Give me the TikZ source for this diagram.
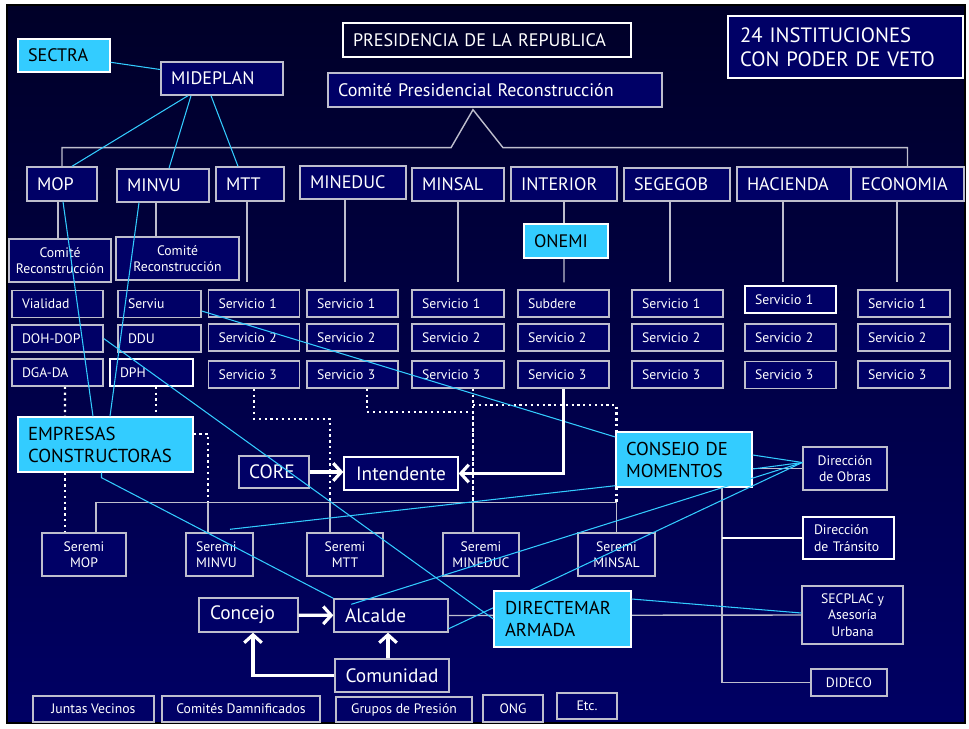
\documentclass[tikz,border=0pt]{standalone}
\usepackage{fontspec}
\setmainfont{PT Sans}
\usetikzlibrary{arrows.meta,calc}
\definecolor{navybox}{RGB}{0,0,102}
\definecolor{skyblue}{RGB}{51,204,255}
\definecolor{edgegray}{RGB}{190,190,205}
\definecolor{bgtop}{RGB}{0,0,40}
\definecolor{bgbot}{RGB}{0,0,100}
\pgfdeclarelayer{back}
\pgfdeclarelayer{bg}
\pgfsetlayers{back,bg,main}
\tikzset{
  big/.style={font=\fontsize{10.3}{12}\selectfont},
  mid/.style={font=\fontsize{11}{13}\selectfont},
  small/.style={font=\fontsize{7.8}{9.3}\selectfont},
  box/.style={shape=rectangle, draw=edgegray, line width=0.8pt, fill=navybox, text=white, big, align=left, inner xsep=0.2cm, inner ysep=0pt},
  cbox/.style={shape=rectangle, draw=edgegray, line width=0.8pt, fill=navybox, text=white, align=center, inner sep=0pt},
  cyanbox/.style={box, fill=skyblue, draw=white, text=black},
  sbox/.style={box, small, text width=1.42cm, minimum height=0.54cm},
  cyanline/.style={draw=skyblue, line width=0.6pt},
  grayline/.style={draw=edgegray, line width=0.8pt},
  dotline/.style={draw=white, line width=1.3pt, dotted},
  bigarrow/.style={draw=white, line width=1.8pt, -{Straight Barb[length=4.5pt,width=10pt]}}
}
\begin{document}
\begin{tikzpicture}[x=0.02cm,y=-0.02cm]
\useasboundingbox (0,0) rectangle (969,729);
\begin{pgfonlayer}{back}
\fill[white] (0,0) rectangle (969,729);
\shadedraw[top color=bgtop, bottom color=bgbot, draw=black, line width=1.5pt] (7,5) rectangle (965,723);
\end{pgfonlayer}

\node (z1)[cyanbox, text width=1.44cm, minimum height=0.66cm] at (64,55.5) {SECTRA};
\node (z2)[box, text width=2.04cm, minimum height=0.66cm] at (222,78.5) {MIDEPLAN};
\node (z3)[box, fill=none, draw=white, text width=5.36cm, minimum height=0.68cm] at (487,40) {PRESIDENCIA DE LA REPUBLICA};
\node (z4)[box, text width=6.28cm, minimum height=0.68cm] at (495,90) {Comité Presidencial Reconstrucción};
\node (z5)[box, draw=white, font=\fontsize{11.8}{13.5}\selectfont, inner xsep=0.24cm, text width=4.22cm, minimum height=1.24cm] at (845.5,47) {24 INSTITUCIONES\\CON PODER DE VETO};

\node (z6)[box, text width=1.0cm, minimum height=0.68cm] at (62,184) {MOP};
\node (z7)[box, text width=1.44cm, minimum height=0.66cm] at (163,185.5) {MINVU};
\node (z8)[box, text width=0.96cm, minimum height=0.68cm] at (250,184) {MTT};
\node (z9)[box, text width=1.72cm, minimum height=0.66cm] at (353,182.5) {MINEDUC};
\node (z10)[box, text width=1.44cm, minimum height=0.66cm] at (458,184.5) {MINSAL};
\node (z11)[box, text width=1.72cm, minimum height=0.68cm] at (564,184) {INTERIOR};
\node (z12)[box, text width=1.72cm, minimum height=0.66cm] at (677,184.5) {SEGEGOB};
\node (z13)[box, text width=1.88cm, minimum height=0.68cm] at (794,184) {HACIENDA};
\node (z14)[box, text width=1.86cm, minimum height=0.68cm] at (907.5,184) {ECONOMIA};
\node (z15)[cyanbox, text width=1.28cm, minimum height=0.68cm] at (566,241) {ONEMI};

\node (z16)[cbox, small, minimum width=2.04cm, minimum height=0.86cm] at (60,260.5) {Comité\\Reconstrucción};
\node (z17)[cbox, small, minimum width=2.46cm, minimum height=0.86cm] at (177.5,258.5) {Comité\\Reconstrucción};

\node (z18)[sbox] at (57.5,304) {Vialidad};
\node (z19)[sbox] at (57.5,338.5) {DOH-DOP};
\node (z20)[sbox] at (57.5,372.5) {DGA-DA};
\node (z21)[sbox, text width=1.26cm] at (159.5,304) {Serviu};
\node (z22)[sbox, text width=1.26cm] at (159.5,338.5) {DDU};
\node (z23)[sbox, draw=white, text width=1.26cm] at (151.5,372.5) {DPH};
\node (z24)[sbox] at (254,303.5) {Servicio 1};
\node (z25)[sbox] at (254,337.5) {Servicio 2};
\node (z26)[sbox] at (254,374.5) {Servicio 3};
\node (z27)[sbox] at (352.5,303.5) {Servicio 1};
\node (z28)[sbox] at (352.5,337.5) {Servicio 2};
\node (z29)[sbox] at (352.5,374.5) {Servicio 3};
\node (z30)[sbox, text width=1.44cm] at (458,303.5) {Servicio 1};
\node (z31)[sbox, text width=1.44cm] at (458,337.5) {Servicio 2};
\node (z32)[sbox, text width=1.44cm] at (458,374.5) {Servicio 3};
\node (z33)[sbox] at (563.5,303.5) {Subdere};
\node (z34)[sbox] at (563.5,337.5) {Servicio 2};
\node (z35)[sbox] at (563.5,374.5) {Servicio 3};
\node (z36)[sbox] at (677.5,303.5) {Servicio 1};
\node (z37)[sbox] at (677.5,337.5) {Servicio 2};
\node (z38)[sbox] at (677.5,374.5) {Servicio 3};
\node (z39)[sbox, draw=white] at (790.5,299.5) {Servicio 1};
\node (z40)[sbox] at (790.5,337.5) {Servicio 2};
\node (z41)[sbox] at (790.5,375) {Servicio 3};
\node (z42)[sbox, text width=1.44cm] at (904,303.5) {Servicio 1};
\node (z43)[sbox, text width=1.44cm] at (904,337.5) {Servicio 2};
\node (z44)[sbox, text width=1.44cm] at (904,374.5) {Servicio 3};

\node (z45)[cyanbox, text width=3.1cm, minimum height=1.1cm, font=\fontsize{10.7}{12.5}\selectfont] at (105.5,444.5) {EMPRESAS\\CONSTRUCTORAS};
\node (z46)[box, mid, text width=1.0cm, minimum height=0.64cm] at (274,472) {CORE};
\node (z47)[cbox, mid, draw=white, minimum width=2.28cm, minimum height=0.66cm] at (401,473.5) {Intendente};
\node (z48)[cyanbox, text width=2.32cm, minimum height=1.1cm, font=\fontsize{10.6}{12.5}\selectfont] at (684,459.5) {CONSEJO DE\\MOMENTOS};
\node (z49)[cbox, small, minimum width=1.68cm, minimum height=0.86cm] at (845,468.5) {Dirección\\de Obras};
\node (z50)[box, small, draw=white, inner xsep=0.22cm, text width=1.38cm, minimum height=0.84cm] at (848.5,538) {Dirección\\de Tránsito};
\node (z51)[cbox, small, minimum width=2.02cm, minimum height=1.16cm] at (852.5,615) {SECPLAC y\\Asesoría\\Urbana};
\node (z52)[cbox, small, minimum width=1.52cm, minimum height=0.54cm] at (849,682.5) {DIDECO};

\node (z53)[cbox, small, minimum width=1.68cm, minimum height=0.86cm] at (84,554.5) {Seremi\\MOP};
\node (z54)[box, small, text width=0.94cm, minimum height=0.86cm] at (219.5,554.5) {Seremi\\MINVU};
\node (z55)[cbox, small, minimum width=1.52cm, minimum height=0.86cm] at (345,554.5) {Seremi\\MTT};
\node (z56)[cbox, small, minimum width=1.52cm, minimum height=0.86cm] at (481,554.5) {Seremi\\MINEDUC};
\node (z57)[cbox, small, minimum width=1.54cm, minimum height=0.86cm] at (616.5,554.5) {Seremi\\MINSAL};

\node (z58)[box, mid, inner xsep=0.22cm, text width=1.54cm, minimum height=0.68cm] at (248.5,615) {Concejo};
\node (z59)[box, mid, inner xsep=0.22cm, text width=1.84cm, minimum height=0.66cm] at (391,615.5) {Alcalde};
\node (z60)[cbox, mid, minimum width=2.28cm, minimum height=0.66cm] at (392,675.5) {Comunidad};

\draw[cyanline] ($(z59.south east)+(0,-4)$) -- ($(z49.west)+(0,-6)$);
\node (z61)[cyanbox, inner xsep=0.22cm, text width=2.3cm, minimum height=1.12cm, font=\fontsize{10.6}{12.5}\selectfont] at (562.5,619) {DIRECTEMAR\\ARMADA};

\node (z62)[cbox, small, minimum width=2.42cm, minimum height=0.52cm] at (93.5,709) {Juntas Vecinos};
\node (z63)[cbox, small, minimum width=3.16cm, minimum height=0.52cm] at (241,709) {Comités Damnificados};
\node (z64)[cbox, small, minimum width=2.72cm, minimum height=0.5cm] at (404,709.5) {Grupos de Presión};
\node (z65)[cbox, small, minimum width=1.2cm, minimum height=0.54cm] at (513,708.5) {ONG};
\node (z66)[cbox, small, minimum width=1.2cm, minimum height=0.52cm] at (587,706) {Etc.};

\begin{pgfonlayer}{bg}
\coordinate (t0) at ($(z4.south)+(-22,2)$);
\draw[grayline] (z6.north) |- ($(t0)+(-22,38)$) -- (t0) -- ($(t0)+(30,38)$) -| (z14.north);
\draw[grayline] ($(z6.south)+(-4,0)$) -- ($(z16.north)+(-2,0)$);
\draw[grayline] ($(z7.south)+(-7,0)$) -- ($(z17.north)+(-21.5,0)$);
\draw[grayline] ($(z8.south)+(-3,0)$) -- ($(z24.north)+(-7,-7)$);
\draw[grayline] ($(z9.south)+(-8,0)$) -- ($(z27.north)+(-7.5,-7)$);
\draw[grayline] (z10.south) -- ($(z30.north)+(0,-7)$);
\draw[grayline] (z11.south) -- ($(z15.north)+(-2,0)$);
\draw[grayline] ($(z15.south)+(-2,0)$) -- ($(z33.north)+(0.5,-7)$);
\draw[grayline] ($(z12.south)+(-7,0)$) -- ($(z36.north)+(-7.5,-7)$);
\draw[grayline] ($(z13.south)+(-11,0)$) -- ($(z39.north)+(-7.5,-3)$);
\draw[grayline] ($(z14.south)+(-10.5,0)$) -- ($(z42.north)+(-7,-7)$);

\coordinate (bus) at ($(z57.north)+(0,-30)$);
\draw[dotline] ($(z20.south)+(7.5,0)$) -- ($(z45.north)+(-40.5,0)$);
\draw[dotline] ($(z23.south)+(4.5,0)$) -- ($(z45.north)+(50.5,0)$);
\draw[dotline] ($(z45.south)+(-40.5,0)$) -- ($(z53.north)+(-19,0)$);
\draw[dotline] ($(z45.east)+(0,-10.5)$) -| ($(z54.north)+(-11.5,-30)$);
\draw[dotline] (z26.south) -- ++(0,30) -| ($(z55.north)+(-15,-30)$);
\draw[dotline] ($(z29.south)+(14.5,0)$) -- ++(0,23) -| ($(z56.north)+(-8,-30)$);
\draw[dotline] ($(z32.south)+(15,0)$) -- ($(z56.north)+(-8,-30)$);
\draw[dotline] ($(z32.south)+(15,16.5)$) -| (bus);

\draw[grayline] ($(z53.north)+(12,0)$) |- (bus) -- (z57.north);
\draw[grayline] ($(z54.north)+(-11.5,-30)$) -- ($(z54.north)+(-11.5,0)$);
\draw[grayline] ($(z55.north)+(-15,-30)$) -- ($(z55.north)+(-15,0)$);
\draw[grayline] ($(z56.north)+(-8,-30)$) -- ($(z56.north)+(-8,0)$);

\coordinate (v0) at ($(z48.south)+(38,0)$);
\draw[grayline] (v0) |- (z52.west);
\draw[white, line width=1.2pt] (v0 |- z50.west) -- (z50.west);
\draw[grayline] (z48.east |- z49.west) -- (z49.west);
\draw[grayline] (z59.east) -- (z51.west);
\end{pgfonlayer}

\draw[cyanline] (z1) -- (z2);
\draw[cyanline] ($(z2.south)+(-34,0)$) -- ($(z6.north)+(10,0)$);
\draw[cyanline] ($(z2.south)+(-31,0)$) -- ($(z7.north)+(6,0)$);
\draw[cyanline] ($(z2.south)+(-11,0)$) -- ($(z8.north)+(-12,0)$);
\draw[cyanline] ($(z6.south)+(1,0)$) -- ($(z45.north)+(-12.5,0)$);
\draw[cyanline] ($(z7.south)+(-24,0)$) -- ($(z45.north)+(4.5,0)$);
\draw[cyanline] ($(z21.east)+(0,7)$) -- ($(z48.west)+(0,-22.5)$);
\draw[cyanline] (z19.east) -- (z61.west);
\draw[cyanline] ($(z45.south)+(-4,0)$) -- ++(0,5) -- (z59.north west);
\draw[cyanline] ($(z54.north)+(10.5,-3)$) -- ($(z48.south west)+(0,-2)$);
\draw[cyanline] ($(z59.north west)+(18,6)$) -- ($(z49.west)+(0,-6)$);
\draw[cyanline] ($(z61.east)+(0,-20)$) -- ($(z51.west)+(0,-2)$);
\draw[cyanline] ($(z48.east)+(0,-4.5)$) -- ($(z49.west)+(0,-6)$);
\draw[cyanline] ($(z48.east)+(0,9.5)$) -- ($(z49.west)+(0,-6)$);

\draw[bigarrow] (z46.east) -- (z47.west |- z46.east);
\draw[bigarrow] (z35.south) |- (z47.east);
\draw[bigarrow] (z58) -- (z59);
\draw[bigarrow] ($(z60.north)+(-4,0)$) -- ($(z59.south)+(-3,0)$);
\draw[bigarrow] (z60.west) -| ($(z58.south)+(4.5,0)$);
\end{tikzpicture}
\end{document}
